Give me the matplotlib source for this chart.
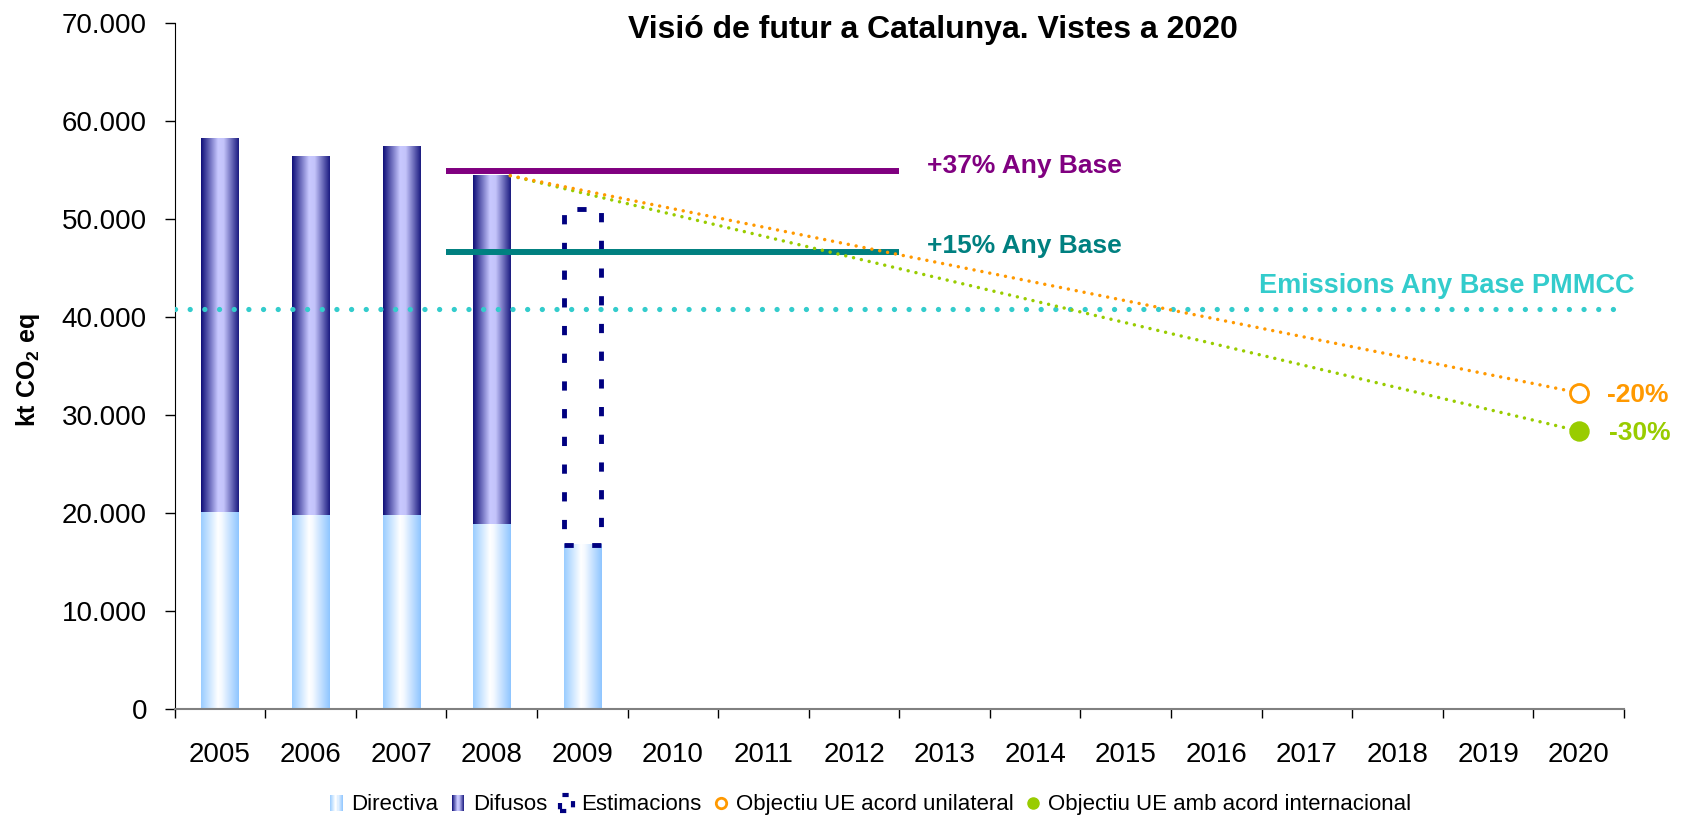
import numpy as np
import matplotlib
matplotlib.use("Agg")
import matplotlib.pyplot as plt
from matplotlib.colors import LinearSegmentedColormap
from matplotlib.legend_handler import HandlerBase
from matplotlib.patches import Rectangle, Patch
from matplotlib.lines import Line2D
from matplotlib.ticker import FixedLocator, NullFormatter, FuncFormatter

plt.rcParams['font.family'] = ['Liberation Sans', 'DejaVu Sans']
plt.rcParams['mathtext.fontset'] = 'custom'
plt.rcParams['mathtext.rm'] = 'Liberation Sans'
plt.rcParams['mathtext.bf'] = 'Liberation Sans:bold'

# --- data (kt CO2 eq) ---
years = ["2005", "2006", "2007", "2008", "2009", "2010", "2011", "2012",
         "2013", "2014", "2015", "2016", "2017", "2018", "2019", "2020"]
directiva_years = ["2005", "2006", "2007", "2008", "2009"]
directiva = [20100, 19850, 19850, 18900, 16750]
difusos_years = ["2005", "2006", "2007", "2008"]
difusos = [38100, 36600, 37550, 35550]
estim_year = "2009"
estimacions = 34300

base_span = ["2008", "2012"]
base_37 = 54900
base_15 = 46700
base_pmmcc = 40800

target_years = ["2008", "2020"]
target_unilateral = 32300
target_intl = 28400

NAVY = '#000080'
PURPLE = '#800080'
TEAL = '#008080'
CYAN = '#33CCCC'
ORANGE = '#FF9900'
GREEN = '#99CC00'

cmap_dir = LinearSegmentedColormap.from_list(
    'dir', [(0, '#99CCFF'), (0.45, '#FFFFFF'), (0.55, '#F4F9FF'), (1, '#8EC5FF')])
cmap_dif = LinearSegmentedColormap.from_list(
    'dif', [(0, '#0E0E78'), (0.45, '#C8C8FF'), (0.6, '#C4C4FA'), (1, '#1A1A80')])

bar_w = 0.41
pos = {y: i for i, y in enumerate(years)}


def gradient_bar(ax, x, bottom, height, cmap):
    img = np.linspace(0, 1, 256).reshape(1, -1)
    ax.imshow(img, cmap=cmap, aspect='auto', interpolation='bilinear',
              extent=(x - bar_w / 2, x + bar_w / 2, bottom, bottom + height), zorder=2)


class GradientHandler(HandlerBase):
    def __init__(self, cmap, n=12):
        super().__init__()
        self.cmap = cmap
        self.n = n

    def create_artists(self, legend, orig_handle, xdescent, ydescent,
                       width, height, fontsize, trans):
        arts = []
        for i in range(self.n):
            arts.append(Rectangle((-xdescent + width * i / self.n, -ydescent),
                                  width / self.n, height,
                                  facecolor=self.cmap((i + 0.5) / self.n),
                                  edgecolor='none', transform=trans))
        return arts


fig = plt.figure(figsize=(16.86, 8.17), dpi=100)
ax = fig.add_axes([0.1036, 0.1318, 0.8596, 0.8397])

# stacked bars
for y, v in zip(directiva_years, directiva):
    gradient_bar(ax, pos[y], 0, v, cmap_dir)
for y, v in zip(difusos_years, difusos):
    gradient_bar(ax, pos[y], directiva[directiva_years.index(y)], v, cmap_dif)

ax.bar(pos[estim_year], estimacions, bar_w,
       bottom=directiva[directiva_years.index(estim_year)],
       fill=False, edgecolor=NAVY, linewidth=3.5, linestyle=(0, (1.9, 3.8)), zorder=3)

# reference levels
ax.plot([-0.5, len(years) - 0.5], [base_pmmcc, base_pmmcc], color=CYAN, lw=3.8,
        dashes=[0.01, 2.77], dash_capstyle='round', zorder=3)
x0 = pos[base_span[0]] - 0.5
x1 = pos[base_span[1]] + 0.5
ax.plot([x0, x1], [base_37, base_37], color=PURPLE, lw=4.3, solid_capstyle='butt', zorder=4)
ax.plot([x0, x1], [base_15, base_15], color=TEAL, lw=4.3, solid_capstyle='butt', zorder=4)

# targets
i08 = directiva_years.index(target_years[0])
start_val = directiva[i08] + difusos[i08]
tx = [pos[target_years[0]] + bar_w / 2, pos[target_years[1]]]
ax.plot(tx, [start_val, target_intl], color=GREEN, lw=2.5,
        dashes=[0.01, 2.3], dash_capstyle='round', zorder=5)
ax.plot(tx, [start_val, target_unilateral], color=ORANGE, lw=2.5,
        dashes=[0.01, 2.3], dash_capstyle='round', zorder=5)
ax.plot(tx[1], target_unilateral, marker='o', ms=13, mfc='white', mec=ORANGE, mew=2, zorder=6)
ax.plot(tx[1], target_intl, marker='o', ms=13.7, mfc=GREEN, mec=GREEN, zorder=6)

# text labels
ax.text(7.81, 54690, "+37% Any Base", color=PURPLE, fontsize=19, fontweight='bold', va='baseline')
ax.text(7.81, 46530, "+15% Any Base", color=TEAL, fontsize=19, fontweight='bold', va='baseline')
ax.text(15.62, 42450, "Emissions Any Base PMMCC", color=CYAN, fontsize=19.5,
        fontweight='bold', va='baseline', ha='right', clip_on=False)
ax.text(15.31, 31390, "-20%", color=ORANGE, fontsize=19, fontweight='bold', va='baseline', clip_on=False)
ax.text(15.34, 27480, "-30%", color=GREEN, fontsize=19, fontweight='bold', va='baseline', clip_on=False)

# axes
ax.set_xlim(-0.5, len(years) - 0.5)
ax.set_ylim(0, 70000)
ax.set_yticks(range(0, 70001, 10000))
ax.yaxis.set_major_formatter(FuncFormatter(lambda v, p: f"{v:,.0f}".replace(',', '.')))
ax.xaxis.set_major_locator(FixedLocator(np.arange(-0.5, len(years), 1)))
ax.xaxis.set_major_formatter(NullFormatter())
ax.set_xticks(range(len(years)), labels=years, minor=True)
ax.tick_params(axis='x', which='minor', length=0, pad=23.5, labelsize=20)
ax.tick_params(axis='x', which='major', length=6.5, width=1, color='black')
ax.tick_params(axis='y', length=7, width=1, pad=13, labelsize=20)
for s in ['top', 'right']:
    ax.spines[s].set_visible(False)
ax.spines['left'].set_color('black')
ax.spines['bottom'].set_color('#808080')
ax.spines['bottom'].set_linewidth(1.5)

fig.text(0.5534, 0.953, "Visió de futur a Catalunya. Vistes a 2020",
         ha='center', va='baseline', fontsize=23, fontweight='bold')
fig.text(0.0166, 0.547, r'kt CO$_\mathbf{2}$ eq', rotation=90, ha='center', va='center',
         fontsize=18, fontweight='bold')

# legend
h_dir = Patch()
h_dif = Patch()
h_est = Patch(facecolor='none', edgecolor=NAVY, linewidth=3, linestyle=(0, (1.5, 2.5)))
h_uni = Line2D([], [], ls='none', marker='o', ms=7.5, mfc='white', mec=ORANGE, mew=2)
h_int = Line2D([], [], ls='none', marker='o', ms=8, mfc=GREEN, mec=GREEN)
fig.legend([h_dir, h_dif, h_est, h_uni, h_int],
           ["Directiva", "Difusos", "Estimacions", "Objectiu UE acord unilateral",
            "Objectiu UE amb acord internacional"],
           loc='center', bbox_to_anchor=(0.5166, 0.0147), ncol=5, frameon=False,
           fontsize=16, handlelength=0.55, handleheight=0.75, handletextpad=0.4,
           columnspacing=0.6,
           handler_map={h_dir: GradientHandler(cmap_dir), h_dif: GradientHandler(cmap_dif)})

fig.savefig('out.png', dpi=100)
